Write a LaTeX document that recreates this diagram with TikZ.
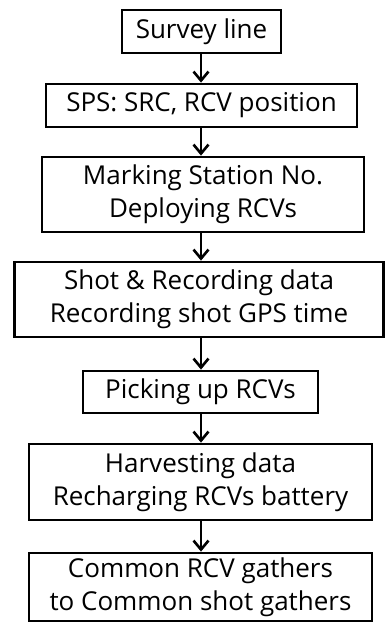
\documentclass[tikz,border=0pt]{standalone}
\usepackage{fontspec}
\setmainfont{Open Sans}
\usetikzlibrary{arrows.meta}
\begin{document}
\begin{tikzpicture}[x=1pt,y=-1pt,
  box/.style={draw=black,line width=2.8pt,rectangle,inner sep=0pt,align=center,font=\fontsize{26}{33}\selectfont},
  arr/.style={line width=2.6pt,-{Straight Barb[length=9pt,width=15pt,line width=2.6pt]}}]
\useasboundingbox (0,0) rectangle (385,624);
\node[box,minimum width=159pt,minimum height=43pt] (b1) at (201.5,31.5) {Survey line};
\node[box,minimum width=311pt,minimum height=43pt] (b2) at (201.5,105.5) {SPS: SRC, RCV position};
\node[box,minimum width=322pt,minimum height=75pt] (b3) at (203,194.5) {Marking Station No.\\Deploying RCVs};
\node[box,minimum width=369pt,minimum height=75pt] (b4) at (199,299.5) {Shot \& Recording data\\Recording shot GPS time};
\node[box,minimum width=235pt,minimum height=42pt] (b5) at (200.5,392) {Picking up RCVs};
\node[box,minimum width=343pt,minimum height=76pt] (b6) at (200.5,482) {Harvesting data\\Recharging RCVs battery};
\node[box,minimum width=343pt,minimum height=68pt] (b7) at (200.5,587) {Common RCV gathers\\to Common shot gathers};
\draw[arr] (b1.south -| 201,0) -- (b2.north -| 201,0);
\draw[arr] (b2.south -| 201,0) -- (b3.north -| 201,0);
\draw[arr] (b3.south -| 201,0) -- (b4.north -| 201,0);
\draw[arr] (b4.south -| 201,0) -- (b5.north -| 201,0);
\draw[arr] (b5.south -| 201,0) -- (b6.north -| 201,0);
\draw[arr] (b6.south -| 201,0) -- (b7.north -| 201,0);
\end{tikzpicture}
\end{document}
